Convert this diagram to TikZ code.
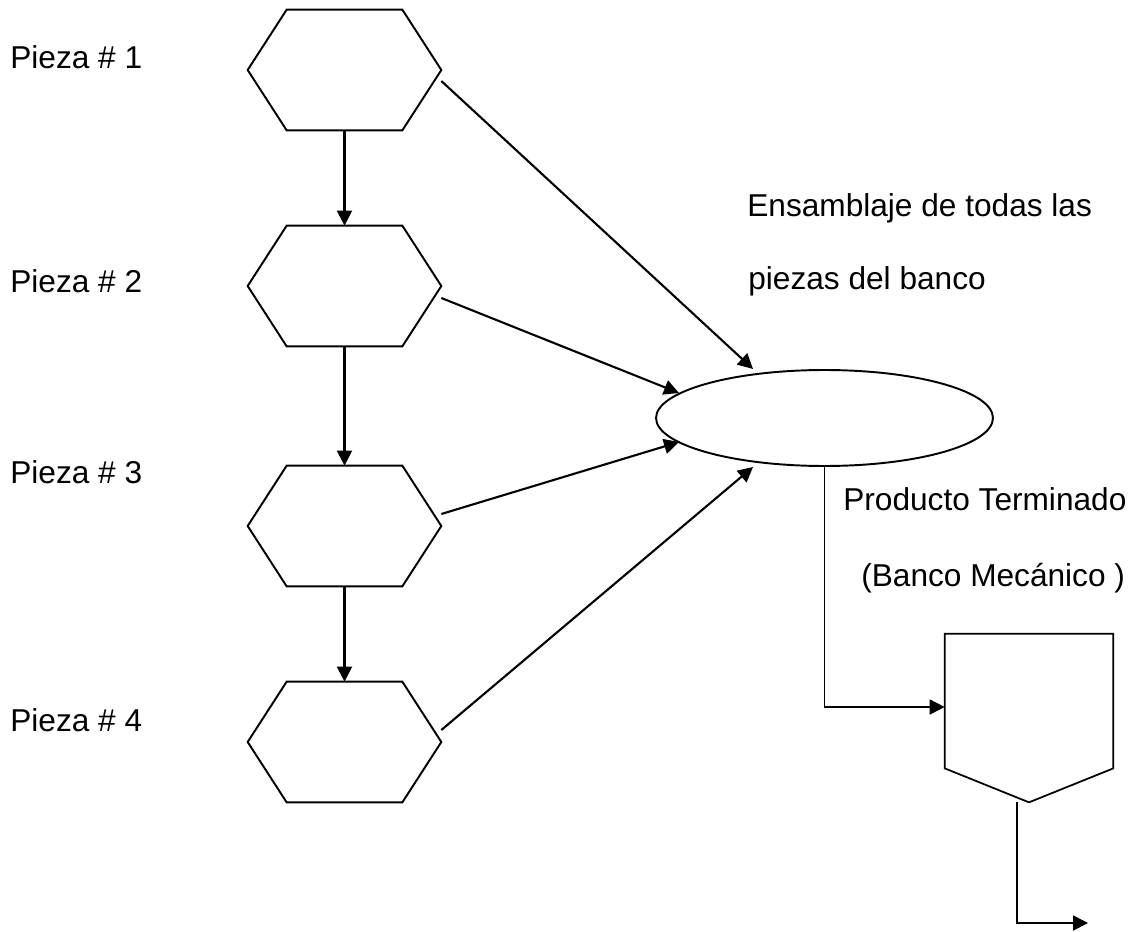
\documentclass[tikz,border=0pt]{standalone}
\usepackage{fontspec}
\setmainfont{Liberation Sans}
\usetikzlibrary{shapes.geometric,arrows.meta,calc}
\tikzset{
  hexbox/.style={draw=none,inner sep=0pt,minimum width=3.86cm,minimum height=2.4cm},
  outline/.style={draw=black,line width=1.1pt,line join=miter},
  flow/.style={draw=black,line width=1.2pt,-{Triangle[length=0.3cm,width=0.3cm]}},
  thinflow/.style={draw=black,line width=1pt,-{Triangle[length=0.3cm,width=0.3cm]}},
  lbl/.style={anchor=base west,inner sep=0pt,font=\fontsize{18}{21}\selectfont}
}
\newcommand{\hexat}[3]{%
  \node[hexbox] (#1) at (#2,#3) {};
  \draw[outline] (#1.west) -- ([xshift=0.78cm]#1.north west) -- ([xshift=-0.78cm]#1.north east)
    -- (#1.east) -- ([xshift=-0.78cm]#1.south east) -- ([xshift=0.78cm]#1.south west) -- cycle;
}
\begin{document}
\begin{tikzpicture}[x=0.02cm,y=-0.02cm]
\useasboundingbox (0,0) rectangle (1145,932);
\fill[white] (0,0) rectangle (1145,932);

% hexagons
\hexat{h1}{344.5}{70}
\hexat{h2}{344.5}{286}
\hexat{h3}{344.5}{526}
\hexat{h4}{344.5}{742}

% ellipse
\node[ellipse,draw=black,line width=1.1pt,inner sep=0pt,minimum width=6.74cm,minimum height=1.92cm] (e) at (824.5,418) {};

% off-page connector (pentagon)
\node[draw=none,inner sep=0pt,minimum width=3.36cm,minimum height=3.36cm] (p) at (1029,718) {};
\draw[outline,line width=1pt] (p.north west) -- (p.north east) -- ([yshift=0.68cm]p.south east)
  -- (p.south) -- ([yshift=0.68cm]p.south west) -- cycle;

\coordinate (out) at (1088,923);

% labels
\node[lbl] (l1) at (10,69) {Pieza \# 1};
\node[lbl] (l2) at (10,293) {Pieza \# 2};
\node[lbl] (l3) at (10,483) {Pieza \# 3};
\node[lbl] (l4) at (10,731) {Pieza \# 4};
\node[lbl] (t1) at (747,217) {Ensamblaje de todas las};
\node[lbl] (t2) at (748,290) {piezas del banco};
\node[lbl] (t3) at (843,510) {Producto Terminado};
\node[lbl] (t4) at (861,586) {(Banco Mecánico )};

% vertical arrows
\draw[flow] (h1.south) -- (h2.north);
\draw[flow] (h2.south) -- (h3.north);
\draw[flow] (h3.south) -- (h4.north);

% arrows to ellipse
\draw[flow] ($(h1.east)+(0,11)$) -- ($(e.center)+(-71.5,-49)$);
\draw[flow] ($(h2.east)+(0,12)$) -- ($(e.center)+(-145.5,-25)$);
\draw[flow] ($(h3.east)+(0,-12)$) -- ($(e.center)+(-145.5,24)$);
\draw[flow] ($(h4.east)+(0,-12)$) -- ($(e.center)+(-71.5,49)$);

% ellipse to connector
\draw[thinflow] (e.south) |- ([yshift=0.22cm]p.west);
% output
\draw[thinflow] ([xshift=-0.24cm]p.south) |- (out);
\end{tikzpicture}
\end{document}
